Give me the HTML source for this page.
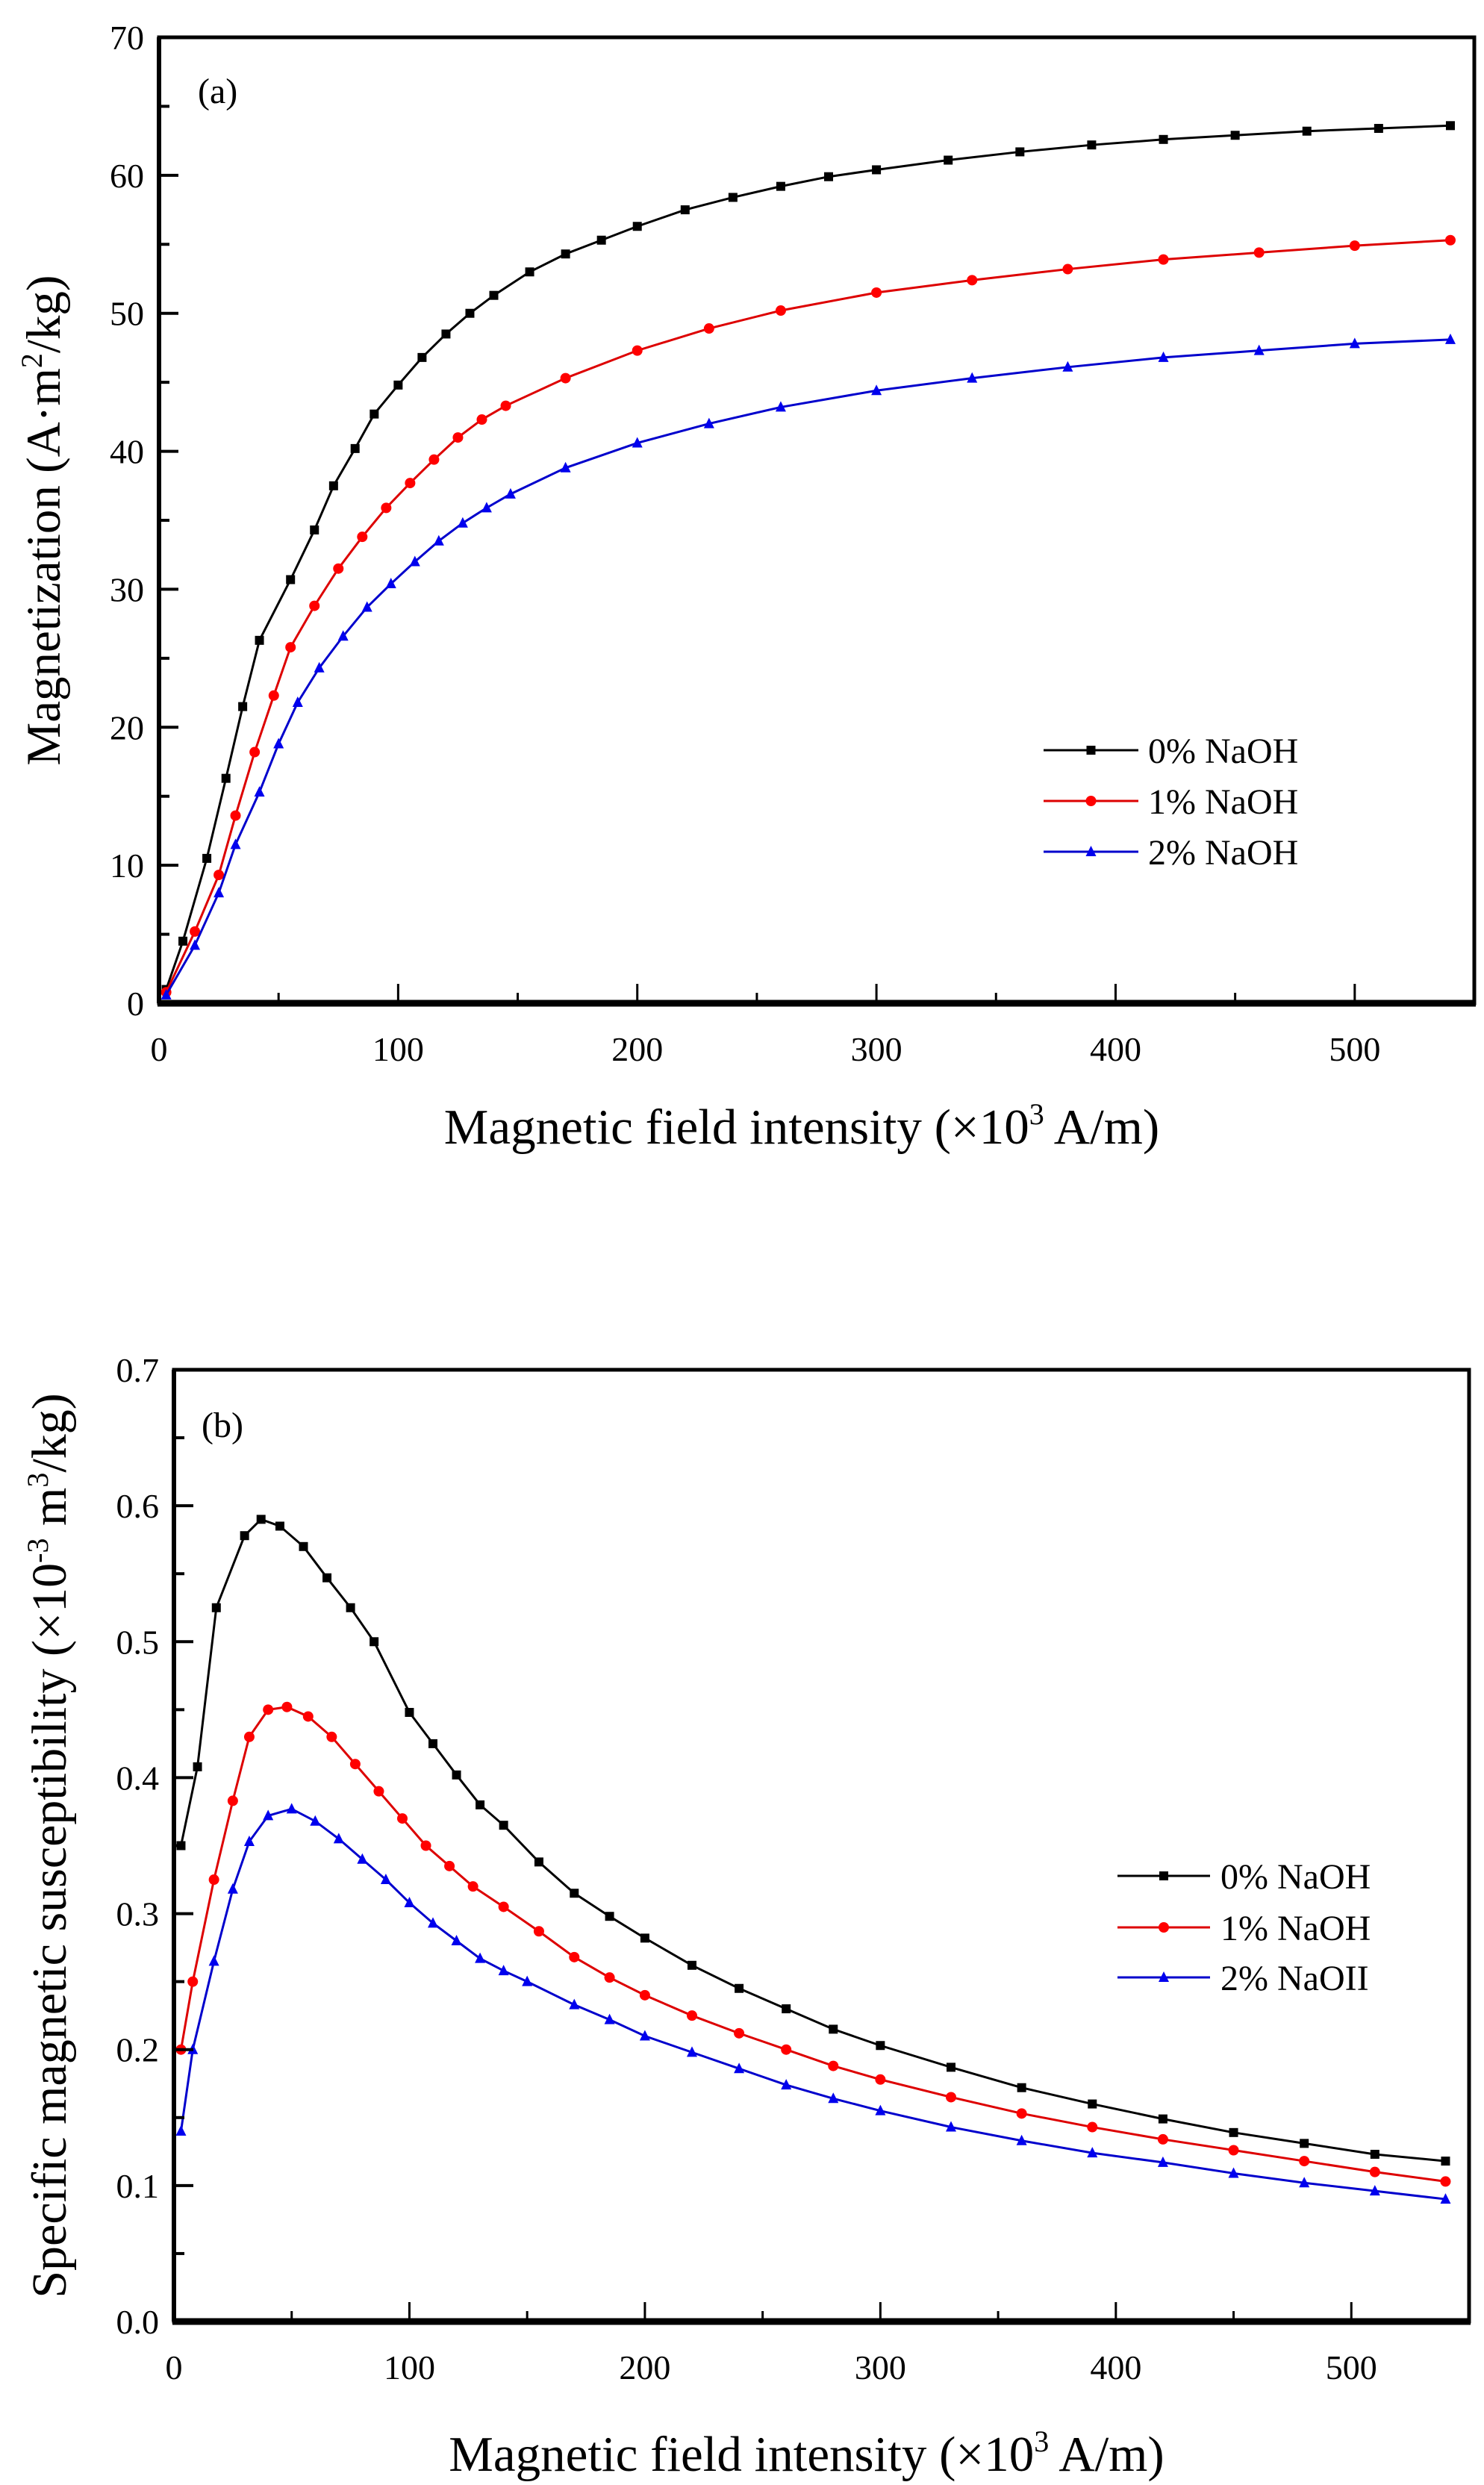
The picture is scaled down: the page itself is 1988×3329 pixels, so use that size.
<!DOCTYPE html>
<html><head><meta charset="utf-8"><style>
html,body{margin:0;padding:0;background:#fff;}
svg{display:block;font-family:"Liberation Serif",serif;}
</style></head><body>
<svg id="fig" width="1988" height="3329" viewBox="0 0 1988 3329"></svg>
<script>
// ---- Panel (a) data: Magnetization vs field ----
const xA0 = [3,10,20,28,35,42,55,65,73,82,90,100,110,120,130,140,155,170,185,200,220,240,260,280,300,330,360,390,420,450,480,510,540];
const yA0 = [1,4.5,10.5,16.3,21.5,26.3,30.7,34.3,37.5,40.2,42.7,44.8,46.8,48.5,50,51.3,53,54.3,55.3,56.3,57.5,58.4,59.2,59.9,60.4,61.1,61.7,62.2,62.6,62.9,63.2,63.4,63.6];
const xA1 = [3,15,25,32,40,48,55,65,75,85,95,105,115,125,135,145,170,200,230,260,300,340,380,420,460,500,540];
const yA1 = [0.8,5.2,9.3,13.6,18.2,22.3,25.8,28.8,31.5,33.8,35.9,37.7,39.4,41,42.3,43.3,45.3,47.3,48.9,50.2,51.5,52.4,53.2,53.9,54.4,54.9,55.3];
const xA2 = [3,15,25,32,42,50,58,67,77,87,97,107,117,127,137,147,170,200,230,260,300,340,380,420,460,500,540];
const yA2 = [0.6,4.2,8,11.5,15.3,18.8,21.8,24.3,26.6,28.7,30.4,32,33.5,34.8,35.9,36.9,38.8,40.6,42,43.2,44.4,45.3,46.1,46.8,47.3,47.8,48.1];
const yTicksA = [0,10,20,30,40,50,60,70];
// ---- Panel (b) data: susceptibility vs field ----
const xB0 = [3,10,18,30,37,45,55,65,75,85,100,110,120,130,140,155,170,185,200,220,240,260,280,300,330,360,390,420,450,480,510,540];
const yB0 = [0.35,0.408,0.525,0.578,0.59,0.585,0.57,0.547,0.525,0.5,0.448,0.425,0.402,0.38,0.365,0.338,0.315,0.298,0.282,0.262,0.245,0.23,0.215,0.203,0.187,0.172,0.16,0.149,0.139,0.131,0.123,0.118];
const xB1 = [3,8,17,25,32,40,48,57,67,77,87,97,107,117,127,140,155,170,185,200,220,240,260,280,300,330,360,390,420,450,480,510,540];
const yB1 = [0.2,0.25,0.325,0.383,0.43,0.45,0.452,0.445,0.43,0.41,0.39,0.37,0.35,0.335,0.32,0.305,0.287,0.268,0.253,0.24,0.225,0.212,0.2,0.188,0.178,0.165,0.153,0.143,0.134,0.126,0.118,0.11,0.103];
const xB2 = [3,8,17,25,32,40,50,60,70,80,90,100,110,120,130,140,150,170,185,200,220,240,260,280,300,330,360,390,420,450,480,510,540];
const yB2 = [0.14,0.2,0.265,0.318,0.353,0.372,0.377,0.368,0.355,0.34,0.325,0.308,0.293,0.28,0.267,0.258,0.25,0.233,0.222,0.21,0.198,0.186,0.174,0.164,0.155,0.143,0.133,0.124,0.117,0.109,0.102,0.096,0.09];
const yTicksB = ["0.0","0.1","0.2","0.3","0.4","0.5","0.6","0.7"];
const xTicks = [0,100,200,300,400,500];
const seriesNames = ["0% NaOH","1% NaOH","2% NaOH"];
const seriesNamesB = ["0% NaOH","1% NaOH","2% NaOII"];

const NS="http://www.w3.org/2000/svg";
const svg=document.getElementById('fig');
function mk(tag,attrs,parent){const e=document.createElementNS(NS,tag);for(const k in attrs)e.setAttribute(k,attrs[k]);(parent||svg).appendChild(e);return e;}
const colors=["#000000","#ff0000","#0000ee"];
const lineColors=["#000000","#dd0000","#0000cc"];

function marker(g,type,x,y,c){
  let m;
  if(type===0){m=mk('rect',{x:x-6,y:y-6,width:12,height:12,fill:c},g);}
  else if(type===1){m=mk('circle',{cx:x,cy:y,r:7,fill:c},g);}
  else {m=mk('polygon',{points:`${x},${y-8} ${x+7},${y+6} ${x-7},${y+6}`,fill:c},g);}
  
  
}

function panel(cfg){
  const {L,R,T,B,xmax,ymax,yt,ytl,minorY,xs,ys,names,legend,tag,tagPos,ytitle,xtitleY,ytitleX,pname}=cfg;
  const g=mk('g',{});
  
  
  const X=v=>L+(v/xmax)*(R-L);
  const Y=v=>B-(v/ymax)*(B-T);
  for(let s=0;s<3;s++){
    const sg=mk('g',{},g);
    
    
    const pts=xs[s].map((x,i)=>X(x)+','+Y(ys[s][i])).join(' ');
    mk('polyline',{points:pts,fill:'none',stroke:lineColors[s],'stroke-width':3},sg);
    xs[s].forEach((x,i)=>marker(sg,s,X(x),Y(ys[s][i]),colors[s]));
  }
  const fr=mk('rect',{x:L,y:T,width:R-L,height:B-T,fill:'none',stroke:'#000','stroke-width':5},g);
  
  
  mk('line',{x1:L-2,y1:B,x2:R+2,y2:B,stroke:'#000','stroke-width':9},g);
  mk('line',{x1:L,y1:T,x2:L,y2:B,stroke:'#000','stroke-width':6},g);
  xTicks.forEach(v=>{
    mk('line',{x1:X(v),y1:B,x2:X(v),y2:B-26,stroke:'#000','stroke-width':3},g);
    const t=mk('text',{x:X(v),y:B+77,'font-size':46,'text-anchor':'middle'},g);
    t.textContent=v;
    
    
    if(v+50<xmax) mk('line',{x1:X(v+50),y1:B,x2:X(v+50),y2:B-14,stroke:'#000','stroke-width':3},g);
  });
  yt.forEach((v,i)=>{
    mk('line',{x1:L,y1:Y(v),x2:L+26,y2:Y(v),stroke:'#000','stroke-width':4},g);
    const t=mk('text',{x:L-20,y:Y(v)+16,'font-size':46,'text-anchor':'end'},g);
    t.textContent=ytl[i];
    
    
    if(i<yt.length-1) mk('line',{x1:L,y1:Y(v+minorY),x2:L+14,y2:Y(v+minorY),stroke:'#000','stroke-width':4},g);
  });
  const tg=mk('text',{x:tagPos[0],y:tagPos[1],'font-size':48},g);
  tg.textContent=tag;
  
  
  const lg=mk('g',{},g);
  
  
  for(let s=0;s<3;s++){
    const y=legend.y[s];
    mk('line',{x1:legend.x1,y1:y,x2:legend.x2,y2:y,stroke:lineColors[s],'stroke-width':3},lg);
    marker(lg,s,(legend.x1+legend.x2)/2,y,colors[s]);
    const t=mk('text',{x:legend.tx,y:y+17,'font-size':48},lg);
    t.textContent=names[s];
    
    
  }
  const xt=mk('text',{x:(L+R)/2-20,y:xtitleY,'font-size':67,'text-anchor':'middle'},g);
  xt.innerHTML='Magnetic field intensity (×10<tspan dy="-26" font-size="40">3</tspan><tspan dy="26"> A/m)</tspan>';
  
  
  const ytt=mk('text',{x:0,y:0,'font-size':cfg.ytfs,'text-anchor':'middle',transform:`translate(${ytitleX},${(T+B)/2}) rotate(-90)`},g);
  ytt.innerHTML=ytitle;
  
  
}

panel({pname:'chart-a',L:213,R:1975,T:50,B:1344,xmax:550,ymax:70,yt:yTicksA,ytl:yTicksA,minorY:5,
  xs:[xA0,xA1,xA2],ys:[yA0,yA1,yA2],names:seriesNames,
  legend:{x1:1398,x2:1525,tx:1538,y:[1005,1073,1141]},
  tag:'(a)',tagPos:[265,138],xtitleY:1532,ytitleX:80,ytfs:65,
  ytitle:'Magnetization (A·m<tspan dy="-24" font-size="40">2</tspan><tspan dy="24">/kg)</tspan>'});

panel({pname:'chart-b',L:233,R:1968,T:1835,B:3110,xmax:550,ymax:0.7,yt:[0,0.1,0.2,0.3,0.4,0.5,0.6,0.7],ytl:yTicksB,minorY:0.05,
  xs:[xB0,xB1,xB2],ys:[yB0,yB1,yB2],names:seriesNamesB,
  legend:{x1:1497,x2:1621,tx:1635,y:[2513,2582,2649]},
  tag:'(b)',tagPos:[270,1925],xtitleY:3310,ytitleX:88,ytfs:66,
  ytitle:'Specific magnetic susceptibility (×10<tspan dy="-24" font-size="40">-3</tspan><tspan dy="24"> m</tspan><tspan dy="-24" font-size="40">3</tspan><tspan dy="24">/kg)</tspan>'});
</script>
</body></html>
